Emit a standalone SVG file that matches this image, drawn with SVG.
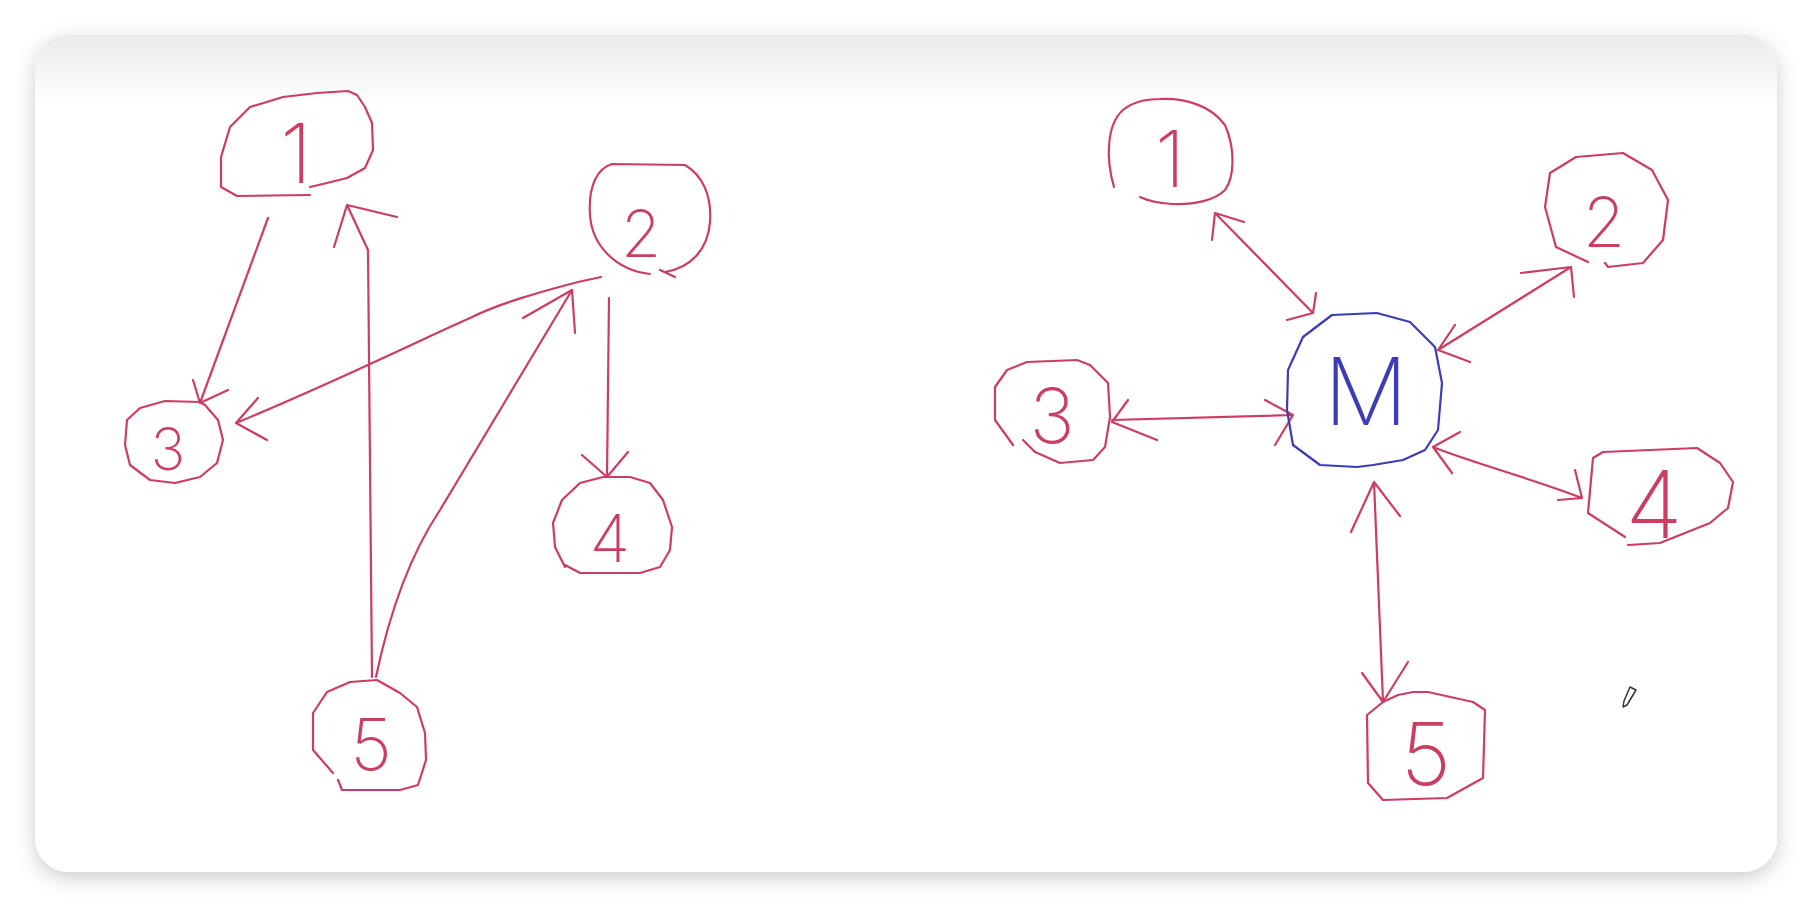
<svg xmlns="http://www.w3.org/2000/svg" width="1812" height="908" viewBox="0 0 1812 908">
<style>
.o{fill:none;stroke:#cc3d62;stroke-width:2.2;stroke-linecap:round;stroke-linejoin:round}
.b{stroke:#3c3cb4}
.t{font-family:Inter,Roboto,"DejaVu Sans",sans-serif;font-weight:150;fill:#cc3d62;text-anchor:middle}
.tb{fill:#3c3cb4}
</style>
<defs>
<linearGradient id="top" gradientUnits="userSpaceOnUse" x1="0" y1="35" x2="0" y2="105">
<stop offset="0" stop-color="#ebebeb"/><stop offset="1" stop-color="#ffffff"/>
</linearGradient>
<filter id="sh" x="-5%" y="-8%" width="110%" height="120%">
<feDropShadow dx="0" dy="6" stdDeviation="10" flood-color="#000" flood-opacity="0.2"/>
</filter>
</defs>
<rect width="1812" height="908" fill="#ffffff"/>
<rect x="35" y="35" width="1742" height="837" rx="34" fill="url(#top)" filter="url(#sh)"/>

<g id="connectors" class="o">
<!-- left graph -->
<path d="M268,218 L200,403 M193,380 L200,403 L228,390"/>
<path d="M601,277 L578,282 C540,292 500,303 470,318 C420,340 340,380 236,423 M258,398 L236,423 L267,440"/>
<path d="M609,298 L607,477 M582,455 L607,477 L628,452"/>
<path d="M372,677 L368,250 L347,205 M334,247 L347,205 L397,217"/>
<path d="M376,677 C390,610 410,555 440,510 L572,290 M523,318 L572,290 L575,333"/>
<!-- right graph -->
<path d="M1215,213 L1313,313 M1212,240 L1215,213 L1244,222 M1316,293 L1313,313 L1287,320"/>
<path d="M1571,267 L1438,350 M1521,273 L1571,267 L1574,297 M1455,325 L1438,350 L1470,362"/>
<path d="M1112,420 L1293,415 M1128,400 L1112,422 L1157,440 M1265,400 L1293,415 L1275,445"/>
<path d="M1433,447 C1470,462 1530,478 1582,498 M1575,470 L1582,498 L1558,500 M1460,432 L1433,447 L1452,473"/>
<path d="M1374,482 L1383,702 M1351,532 L1374,482 L1400,516 M1362,673 L1383,702 L1408,662"/>
</g>

<g id="L1">
<path class="o" d="M310,195 L237,196 L221,187 L221,157 L230,127 L250,107 L283,97 L317,93 L348,91 L357,95 L365,107 L372,123 L373,150 L365,168 L347,178 L327,183 L310,187"/>
<text class="t" x="296" y="183" font-size="83">1</text>
</g>
<g id="L2">
<path class="o" d="M650,274 C615,270 592,245 590,215 C588,185 598,168 612,164 L685,165 C702,175 712,195 710,222 C708,250 690,268 665,272 M660,270 L675,277"/>
<text class="t" x="641" y="257" font-size="65">2</text>
</g>
<g id="L3">
<path class="o" d="M200,402 L165,401 L140,408 L127,420 L125,445 L130,465 L150,480 L175,483 L200,477 L217,463 L223,440 L218,420 L205,405 Z"/>
<text class="t" x="168" y="470" font-size="58">3</text>
</g>
<g id="L4">
<path class="o" d="M565,567 L555,547 L553,523 L562,500 L580,483 L603,477 L630,477 L650,483 L663,500 L672,527 L670,550 L660,567 L640,573 L580,573 L565,565"/>
<text class="t" x="610" y="562" font-size="66">4</text>
</g>
<g id="L5">
<path class="o" d="M333,773 L313,750 L313,713 L327,692 L350,682 L377,680 L400,693 L417,707 L425,733 L426,760 L418,785 L400,790 L342,790 L338,780"/>
<text class="t" x="371" y="770" font-size="72">5</text>
</g>

<g id="R1">
<path class="o" d="M1114,187 C1106,160 1106,125 1123,110 C1135,100 1150,99 1160,99 C1185,98 1210,105 1225,125 C1236,150 1234,178 1225,190 C1215,200 1195,205 1172,204 C1158,203 1146,200 1140,197"/>
<text class="t" x="1170" y="187" font-size="78">1</text>
</g>
<g id="R2">
<path class="o" d="M1605,263 L1608,267 L1643,263 L1663,240 L1668,200 L1652,170 L1623,153 L1576,157 L1550,173 L1545,207 L1556,247 L1588,262"/>
<text class="t" x="1604" y="247" font-size="69">2</text>
</g>
<g id="R3">
<path class="o" d="M1023,440 L1035,452 L1060,463 L1093,460 L1105,447 L1110,417 L1108,383 L1090,365 L1077,360 L1027,362 L1007,370 L995,387 L995,420 L1013,445"/>
<text class="t" x="1052" y="443" font-size="76">3</text>
</g>
<g id="RM">
<path class="o b" d="M1332,315 L1377,313 L1410,322 L1435,347 L1442,383 L1438,430 L1425,450 L1403,460 L1373,465 L1357,467 L1320,465 L1293,445 L1287,410 L1288,370 L1303,337 Z"/>
<text class="t tb" x="1366" y="425" font-size="94">M</text>
</g>
<g id="R4">
<path class="o" d="M1625,537 L1588,513 L1593,458 L1603,452 L1697,448 L1720,463 L1733,482 L1728,508 L1710,523 L1660,543 L1628,545"/>
<text class="t" x="1654" y="538" font-size="94">4</text>
</g>
<g id="R5">
<path class="o" d="M1383,702 L1367,715 L1368,783 L1383,800 L1447,798 L1483,778 L1485,710 L1473,702 L1428,692 L1413,692 L1398,695 Z"/>
<text class="t" x="1426" y="785" font-size="87">5</text>
</g>

<polygon points="1630,687 1636,690 1627,705 1623,707 1624,701" fill="#ffffff" stroke="#333" stroke-width="1.5" stroke-linejoin="round"/>
</svg>
